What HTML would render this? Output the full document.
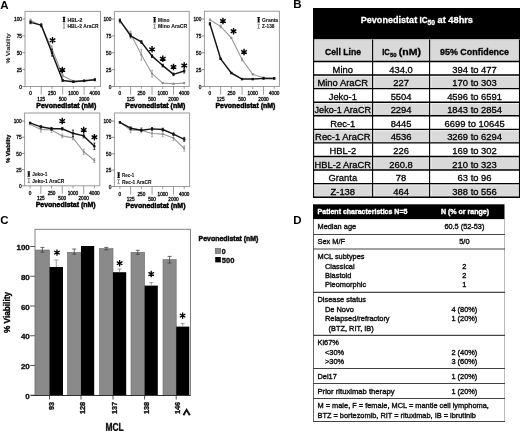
<!DOCTYPE html>
<html><head><meta charset="utf-8"><style>
html,body{margin:0;padding:0;background:#fff;}
body{width:520px;height:431px;overflow:hidden;font-family:"Liberation Sans",sans-serif;}
svg{display:block;will-change:transform;}
</style></head><body>
<svg width="520" height="431" viewBox="0 0 520 431" font-family="Liberation Sans, sans-serif">
<rect width="520" height="431" fill="#fff"/>
<text x="0.30" y="8.60" font-size="11.5" font-weight="bold">A</text>
<text x="293.20" y="8.20" font-size="11.5" font-weight="bold">B</text>
<text x="0.30" y="224.30" font-size="11.5" font-weight="bold">C</text>
<text x="293.20" y="224.30" font-size="11.5" font-weight="bold">D</text>
<rect x="25.00" y="11.40" width="75.50" height="75.10" fill="none" stroke="#9c9c9c" stroke-width="1.0"/>
<path d="M22.40 86.50H25" stroke="#666" stroke-width="0.7"/>
<text x="22.00" y="88.60" font-size="5.8" stroke="#111" stroke-width="0.35" text-anchor="end" fill="#111" textLength="2.65" lengthAdjust="spacingAndGlyphs">0</text>
<path d="M22.40 69.62H25" stroke="#666" stroke-width="0.7"/>
<text x="22.00" y="71.72" font-size="5.8" stroke="#111" stroke-width="0.35" text-anchor="end" fill="#111" textLength="5.30" lengthAdjust="spacingAndGlyphs">25</text>
<path d="M22.40 52.75H25" stroke="#666" stroke-width="0.7"/>
<text x="22.00" y="54.85" font-size="5.8" stroke="#111" stroke-width="0.35" text-anchor="end" fill="#111" textLength="5.30" lengthAdjust="spacingAndGlyphs">50</text>
<path d="M22.40 35.88H25" stroke="#666" stroke-width="0.7"/>
<text x="22.00" y="37.98" font-size="5.8" stroke="#111" stroke-width="0.35" text-anchor="end" fill="#111" textLength="5.30" lengthAdjust="spacingAndGlyphs">75</text>
<path d="M22.40 19.00H25" stroke="#666" stroke-width="0.7"/>
<text x="22.00" y="21.10" font-size="5.8" stroke="#111" stroke-width="0.35" text-anchor="end" fill="#111" textLength="7.95" lengthAdjust="spacingAndGlyphs">100</text>
<path d="M30.50 86.50V89.10" stroke="#777" stroke-width="0.7"/>
<path d="M41.22 86.50V94.70" stroke="#777" stroke-width="0.7"/>
<path d="M51.94 86.50V89.10" stroke="#777" stroke-width="0.7"/>
<path d="M62.66 86.50V94.70" stroke="#777" stroke-width="0.7"/>
<path d="M73.38 86.50V89.10" stroke="#777" stroke-width="0.7"/>
<path d="M84.10 86.50V94.70" stroke="#777" stroke-width="0.7"/>
<path d="M94.82 86.50V89.10" stroke="#777" stroke-width="0.7"/>
<text x="30.50" y="95.40" font-size="5.2" stroke="#111" stroke-width="0.35" text-anchor="middle" fill="#111" textLength="2.60" lengthAdjust="spacingAndGlyphs">0</text>
<text x="51.94" y="95.40" font-size="5.2" stroke="#111" stroke-width="0.35" text-anchor="middle" fill="#111" textLength="7.80" lengthAdjust="spacingAndGlyphs">250</text>
<text x="73.38" y="95.40" font-size="5.2" stroke="#111" stroke-width="0.35" text-anchor="middle" fill="#111" textLength="10.40" lengthAdjust="spacingAndGlyphs">1000</text>
<text x="94.82" y="95.40" font-size="5.2" stroke="#111" stroke-width="0.35" text-anchor="middle" fill="#111" textLength="10.40" lengthAdjust="spacingAndGlyphs">4000</text>
<text x="41.22" y="100.60" font-size="5.2" stroke="#111" stroke-width="0.35" text-anchor="middle" fill="#111" textLength="7.80" lengthAdjust="spacingAndGlyphs">125</text>
<text x="62.66" y="100.60" font-size="5.2" stroke="#111" stroke-width="0.35" text-anchor="middle" fill="#111" textLength="7.80" lengthAdjust="spacingAndGlyphs">500</text>
<text x="84.10" y="100.60" font-size="5.2" stroke="#111" stroke-width="0.35" text-anchor="middle" fill="#111" textLength="10.40" lengthAdjust="spacingAndGlyphs">2000</text>
<text x="66.25" y="108.20" font-size="7.0" stroke="#000" stroke-width="0.45" font-weight="bold" text-anchor="middle" textLength="60.00" lengthAdjust="spacingAndGlyphs">Pevonedistat (nM)</text>
<text x="10.20" y="48.50" font-size="6.2" stroke="#222" stroke-width="0.2" text-anchor="middle" fill="#222" textLength="30.00" lengthAdjust="spacingAndGlyphs" transform="rotate(-90 10.20 48.50)">% Viability</text>
<polyline points="30.50,20.35 41.22,25.75 51.94,48.70 62.66,75.70 73.38,81.10 84.10,81.10 94.82,79.75" fill="none" stroke="#999" stroke-width="1.1" stroke-linejoin="round"/>
<path d="M30.50 19.00V21.70M29.50 19.00h2M29.50 21.70h2" stroke="#8a8a8a" stroke-width="0.7"/>
<rect x="29.60" y="19.45" width="1.8" height="1.8" fill="#8a8a8a"/>
<path d="M41.22 24.40V27.10M40.22 24.40h2M40.22 27.10h2" stroke="#8a8a8a" stroke-width="0.7"/>
<rect x="40.32" y="24.85" width="1.8" height="1.8" fill="#8a8a8a"/>
<path d="M51.94 46.00V51.40M50.94 46.00h2M50.94 51.40h2" stroke="#8a8a8a" stroke-width="0.7"/>
<rect x="51.04" y="47.80" width="1.8" height="1.8" fill="#8a8a8a"/>
<path d="M62.66 74.35V77.05M61.66 74.35h2M61.66 77.05h2" stroke="#8a8a8a" stroke-width="0.7"/>
<rect x="61.76" y="74.80" width="1.8" height="1.8" fill="#8a8a8a"/>
<path d="M73.38 80.42V81.77M72.38 80.42h2M72.38 81.77h2" stroke="#8a8a8a" stroke-width="0.7"/>
<rect x="72.48" y="80.20" width="1.8" height="1.8" fill="#8a8a8a"/>
<path d="M84.10 80.42V81.77M83.10 80.42h2M83.10 81.77h2" stroke="#8a8a8a" stroke-width="0.7"/>
<rect x="83.20" y="80.20" width="1.8" height="1.8" fill="#8a8a8a"/>
<path d="M94.82 79.08V80.42M93.82 79.08h2M93.82 80.42h2" stroke="#8a8a8a" stroke-width="0.7"/>
<rect x="93.92" y="78.85" width="1.8" height="1.8" fill="#8a8a8a"/>
<polyline points="30.50,22.38 41.22,25.08 51.94,52.75 62.66,80.42 73.38,81.78 84.10,80.76 94.82,79.75" fill="none" stroke="#151515" stroke-width="1.45" stroke-linejoin="round"/>
<path d="M30.50 21.02V23.73M29.50 21.02h2M29.50 23.73h2" stroke="#111" stroke-width="0.8"/>
<rect x="29.40" y="21.27" width="2.2" height="2.2" fill="#111"/>
<path d="M41.22 23.73V26.43M40.22 23.73h2M40.22 26.43h2" stroke="#111" stroke-width="0.8"/>
<rect x="40.12" y="23.98" width="2.2" height="2.2" fill="#111"/>
<path d="M51.94 49.38V56.12M50.94 49.38h2M50.94 56.12h2" stroke="#111" stroke-width="0.8"/>
<rect x="50.84" y="51.65" width="2.2" height="2.2" fill="#111"/>
<path d="M62.66 79.41V81.44M61.66 79.41h2M61.66 81.44h2" stroke="#111" stroke-width="0.8"/>
<rect x="61.56" y="79.33" width="2.2" height="2.2" fill="#111"/>
<path d="M73.38 81.10V82.45M72.38 81.10h2M72.38 82.45h2" stroke="#111" stroke-width="0.8"/>
<rect x="72.28" y="80.68" width="2.2" height="2.2" fill="#111"/>
<path d="M84.10 80.09V81.44M83.10 80.09h2M83.10 81.44h2" stroke="#111" stroke-width="0.8"/>
<rect x="83.00" y="79.66" width="2.2" height="2.2" fill="#111"/>
<path d="M94.82 78.74V80.76M93.82 78.74h2M93.82 80.76h2" stroke="#111" stroke-width="0.8"/>
<rect x="93.72" y="78.65" width="2.2" height="2.2" fill="#111"/>
<path d="M51.84 40.26L51.84 43.51L53.24 43.51L53.24 40.26ZM52.19 39.66L49.38 41.28L50.08 42.49L52.89 40.87ZM52.89 39.66L50.08 38.03L49.38 39.24L52.19 40.87ZM53.24 40.26L53.24 37.01L51.84 37.01L51.84 40.26ZM52.89 40.87L55.70 39.24L55.00 38.03L52.19 39.66ZM52.19 40.87L55.00 42.49L55.70 41.28L52.89 39.66Z" fill="#000"/>
<path d="M61.66 69.96L61.66 73.21L63.06 73.21L63.06 69.96ZM62.01 69.36L59.20 70.98L59.90 72.19L62.71 70.57ZM62.71 69.36L59.90 67.73L59.20 68.94L62.01 70.57ZM63.06 69.96L63.06 66.71L61.66 66.71L61.66 69.96ZM62.71 70.57L65.52 68.94L64.82 67.73L62.01 69.36ZM62.01 70.57L64.82 72.19L65.52 70.98L62.71 69.36Z" fill="#000"/>
<path d="M64.00 17.30V21.70M62.70 17.30h2.6M62.70 21.70h2.6" stroke="#111" stroke-width="1.2"/>
<rect x="63.00" y="18.50" width="2" height="2" fill="#111"/>
<path d="M64.00 23.90V28.10M62.80 23.90h2.4M62.80 28.10h2.4" stroke="#8a8a8a" stroke-width="1.0"/>
<text x="67.50" y="21.50" font-size="5.4" stroke="#111" stroke-width="0.1" font-weight="bold" fill="#111" textLength="14.80" lengthAdjust="spacingAndGlyphs">HBL-2</text>
<text x="67.50" y="28.00" font-size="5.4" stroke="#111" stroke-width="0.1" font-weight="bold" fill="#111" textLength="31.00" lengthAdjust="spacingAndGlyphs">HBL-2 AraCR</text>
<rect x="114.40" y="11.40" width="74.80" height="75.10" fill="none" stroke="#9c9c9c" stroke-width="1.0"/>
<path d="M111.80 86.50H114.4" stroke="#666" stroke-width="0.7"/>
<text x="111.40" y="88.60" font-size="5.8" stroke="#111" stroke-width="0.35" text-anchor="end" fill="#111" textLength="2.65" lengthAdjust="spacingAndGlyphs">0</text>
<path d="M111.80 69.62H114.4" stroke="#666" stroke-width="0.7"/>
<text x="111.40" y="71.72" font-size="5.8" stroke="#111" stroke-width="0.35" text-anchor="end" fill="#111" textLength="5.30" lengthAdjust="spacingAndGlyphs">25</text>
<path d="M111.80 52.75H114.4" stroke="#666" stroke-width="0.7"/>
<text x="111.40" y="54.85" font-size="5.8" stroke="#111" stroke-width="0.35" text-anchor="end" fill="#111" textLength="5.30" lengthAdjust="spacingAndGlyphs">50</text>
<path d="M111.80 35.88H114.4" stroke="#666" stroke-width="0.7"/>
<text x="111.40" y="37.98" font-size="5.8" stroke="#111" stroke-width="0.35" text-anchor="end" fill="#111" textLength="5.30" lengthAdjust="spacingAndGlyphs">75</text>
<path d="M111.80 19.00H114.4" stroke="#666" stroke-width="0.7"/>
<text x="111.40" y="21.10" font-size="5.8" stroke="#111" stroke-width="0.35" text-anchor="end" fill="#111" textLength="7.95" lengthAdjust="spacingAndGlyphs">100</text>
<path d="M119.90 86.50V89.10" stroke="#777" stroke-width="0.7"/>
<path d="M130.62 86.50V94.70" stroke="#777" stroke-width="0.7"/>
<path d="M141.34 86.50V89.10" stroke="#777" stroke-width="0.7"/>
<path d="M152.06 86.50V94.70" stroke="#777" stroke-width="0.7"/>
<path d="M162.78 86.50V89.10" stroke="#777" stroke-width="0.7"/>
<path d="M173.50 86.50V94.70" stroke="#777" stroke-width="0.7"/>
<path d="M184.22 86.50V89.10" stroke="#777" stroke-width="0.7"/>
<text x="119.90" y="95.40" font-size="5.2" stroke="#111" stroke-width="0.35" text-anchor="middle" fill="#111" textLength="2.60" lengthAdjust="spacingAndGlyphs">0</text>
<text x="141.34" y="95.40" font-size="5.2" stroke="#111" stroke-width="0.35" text-anchor="middle" fill="#111" textLength="7.80" lengthAdjust="spacingAndGlyphs">250</text>
<text x="162.78" y="95.40" font-size="5.2" stroke="#111" stroke-width="0.35" text-anchor="middle" fill="#111" textLength="10.40" lengthAdjust="spacingAndGlyphs">1000</text>
<text x="184.22" y="95.40" font-size="5.2" stroke="#111" stroke-width="0.35" text-anchor="middle" fill="#111" textLength="10.40" lengthAdjust="spacingAndGlyphs">4000</text>
<text x="130.62" y="100.60" font-size="5.2" stroke="#111" stroke-width="0.35" text-anchor="middle" fill="#111" textLength="7.80" lengthAdjust="spacingAndGlyphs">125</text>
<text x="152.06" y="100.60" font-size="5.2" stroke="#111" stroke-width="0.35" text-anchor="middle" fill="#111" textLength="7.80" lengthAdjust="spacingAndGlyphs">500</text>
<text x="173.50" y="100.60" font-size="5.2" stroke="#111" stroke-width="0.35" text-anchor="middle" fill="#111" textLength="10.40" lengthAdjust="spacingAndGlyphs">2000</text>
<text x="155.30" y="108.20" font-size="7.0" stroke="#000" stroke-width="0.45" font-weight="bold" text-anchor="middle" textLength="60.00" lengthAdjust="spacingAndGlyphs">Pevonedistat (nM)</text>
<polyline points="119.90,21.70 130.62,33.85 141.34,54.77 152.06,73.67 162.78,83.12 173.50,83.80 184.22,83.12" fill="none" stroke="#999" stroke-width="1.1" stroke-linejoin="round"/>
<path d="M119.90 20.35V23.05M118.90 20.35h2M118.90 23.05h2" stroke="#8a8a8a" stroke-width="0.7"/>
<rect x="119.00" y="20.80" width="1.8" height="1.8" fill="#8a8a8a"/>
<path d="M130.62 31.15V36.55M129.62 31.15h2M129.62 36.55h2" stroke="#8a8a8a" stroke-width="0.7"/>
<rect x="129.72" y="32.95" width="1.8" height="1.8" fill="#8a8a8a"/>
<path d="M141.34 49.38V60.17M140.34 49.38h2M140.34 60.17h2" stroke="#8a8a8a" stroke-width="0.7"/>
<rect x="140.44" y="53.88" width="1.8" height="1.8" fill="#8a8a8a"/>
<path d="M152.06 70.30V77.05M151.06 70.30h2M151.06 77.05h2" stroke="#8a8a8a" stroke-width="0.7"/>
<rect x="151.16" y="72.77" width="1.8" height="1.8" fill="#8a8a8a"/>
<path d="M162.78 82.45V83.80M161.78 82.45h2M161.78 83.80h2" stroke="#8a8a8a" stroke-width="0.7"/>
<rect x="161.88" y="82.22" width="1.8" height="1.8" fill="#8a8a8a"/>
<path d="M173.50 83.12V84.47M172.50 83.12h2M172.50 84.47h2" stroke="#8a8a8a" stroke-width="0.7"/>
<rect x="172.60" y="82.90" width="1.8" height="1.8" fill="#8a8a8a"/>
<path d="M184.22 82.45V83.80M183.22 82.45h2M183.22 83.80h2" stroke="#8a8a8a" stroke-width="0.7"/>
<rect x="183.32" y="82.22" width="1.8" height="1.8" fill="#8a8a8a"/>
<polyline points="119.90,20.35 130.62,35.88 141.34,41.95 152.06,56.12 162.78,65.58 173.50,74.35 184.22,70.97" fill="none" stroke="#151515" stroke-width="1.45" stroke-linejoin="round"/>
<path d="M119.90 19.00V21.70M118.90 19.00h2M118.90 21.70h2" stroke="#111" stroke-width="0.8"/>
<rect x="118.80" y="19.25" width="2.2" height="2.2" fill="#111"/>
<path d="M130.62 33.85V37.90M129.62 33.85h2M129.62 37.90h2" stroke="#111" stroke-width="0.8"/>
<rect x="129.52" y="34.77" width="2.2" height="2.2" fill="#111"/>
<path d="M141.34 40.60V43.30M140.34 40.60h2M140.34 43.30h2" stroke="#111" stroke-width="0.8"/>
<rect x="140.24" y="40.85" width="2.2" height="2.2" fill="#111"/>
<path d="M152.06 54.77V57.48M151.06 54.77h2M151.06 57.48h2" stroke="#111" stroke-width="0.8"/>
<rect x="150.96" y="55.02" width="2.2" height="2.2" fill="#111"/>
<path d="M162.78 64.23V66.92M161.78 64.23h2M161.78 66.92h2" stroke="#111" stroke-width="0.8"/>
<rect x="161.68" y="64.48" width="2.2" height="2.2" fill="#111"/>
<path d="M173.50 73.00V75.70M172.50 73.00h2M172.50 75.70h2" stroke="#111" stroke-width="0.8"/>
<rect x="172.40" y="73.25" width="2.2" height="2.2" fill="#111"/>
<path d="M184.22 68.95V73.00M183.22 68.95h2M183.22 73.00h2" stroke="#111" stroke-width="0.8"/>
<rect x="183.12" y="69.88" width="2.2" height="2.2" fill="#111"/>
<path d="M151.36 49.38L151.36 52.62L152.76 52.62L152.76 49.38ZM151.71 48.77L148.90 50.39L149.60 51.61L152.41 49.98ZM152.41 48.77L149.60 47.14L148.90 48.36L151.71 49.98ZM152.76 49.38L152.76 46.12L151.36 46.12L151.36 49.38ZM152.41 49.98L155.22 48.36L154.52 47.14L151.71 48.77ZM151.71 49.98L154.52 51.61L155.22 50.39L152.41 48.77Z" fill="#000"/>
<path d="M162.08 58.83L162.08 62.08L163.48 62.08L163.48 58.83ZM162.43 58.22L159.62 59.84L160.32 61.06L163.13 59.43ZM163.13 58.22L160.32 56.59L159.62 57.81L162.43 59.43ZM163.48 58.83L163.48 55.58L162.08 55.58L162.08 58.83ZM163.13 59.43L165.94 57.81L165.24 56.59L162.43 58.22ZM162.43 59.43L165.24 61.06L165.94 59.84L163.13 58.22Z" fill="#000"/>
<path d="M172.80 66.92L172.80 70.17L174.20 70.17L174.20 66.92ZM173.15 66.32L170.34 67.94L171.04 69.16L173.85 67.53ZM173.85 66.32L171.04 64.69L170.34 65.91L173.15 67.53ZM174.20 66.92L174.20 63.67L172.80 63.67L172.80 66.92ZM173.85 67.53L176.66 65.91L175.96 64.69L173.15 66.32ZM173.15 67.53L175.96 69.16L176.66 67.94L173.85 66.32Z" fill="#000"/>
<path d="M183.52 65.58L183.52 68.83L184.92 68.83L184.92 65.58ZM183.87 64.97L181.06 66.59L181.76 67.81L184.57 66.18ZM184.57 64.97L181.76 63.34L181.06 64.56L183.87 66.18ZM184.92 65.58L184.92 62.33L183.52 62.33L183.52 65.58ZM184.57 66.18L187.38 64.56L186.68 63.34L183.87 64.97ZM183.87 66.18L186.68 67.81L187.38 66.59L184.57 64.97Z" fill="#000"/>
<path d="M154.60 17.60V22.00M153.30 17.60h2.6M153.30 22.00h2.6" stroke="#111" stroke-width="1.2"/>
<rect x="153.60" y="18.80" width="2" height="2" fill="#111"/>
<path d="M154.60 24.20V28.40M153.40 24.20h2.4M153.40 28.40h2.4" stroke="#8a8a8a" stroke-width="1.0"/>
<text x="158.10" y="21.80" font-size="5.4" stroke="#111" stroke-width="0.1" font-weight="bold" fill="#111" textLength="11.30" lengthAdjust="spacingAndGlyphs">Mino</text>
<text x="158.10" y="28.30" font-size="5.4" stroke="#111" stroke-width="0.1" font-weight="bold" fill="#111" textLength="29.00" lengthAdjust="spacingAndGlyphs">Mino AraCR</text>
<rect x="204.40" y="11.20" width="75.00" height="75.30" fill="none" stroke="#9c9c9c" stroke-width="1.0"/>
<path d="M201.80 86.50H204.4" stroke="#666" stroke-width="0.7"/>
<text x="201.40" y="88.60" font-size="5.8" stroke="#111" stroke-width="0.35" text-anchor="end" fill="#111" textLength="2.65" lengthAdjust="spacingAndGlyphs">0</text>
<path d="M201.80 69.62H204.4" stroke="#666" stroke-width="0.7"/>
<text x="201.40" y="71.72" font-size="5.8" stroke="#111" stroke-width="0.35" text-anchor="end" fill="#111" textLength="5.30" lengthAdjust="spacingAndGlyphs">25</text>
<path d="M201.80 52.75H204.4" stroke="#666" stroke-width="0.7"/>
<text x="201.40" y="54.85" font-size="5.8" stroke="#111" stroke-width="0.35" text-anchor="end" fill="#111" textLength="5.30" lengthAdjust="spacingAndGlyphs">50</text>
<path d="M201.80 35.88H204.4" stroke="#666" stroke-width="0.7"/>
<text x="201.40" y="37.98" font-size="5.8" stroke="#111" stroke-width="0.35" text-anchor="end" fill="#111" textLength="5.30" lengthAdjust="spacingAndGlyphs">75</text>
<path d="M201.80 19.00H204.4" stroke="#666" stroke-width="0.7"/>
<text x="201.40" y="21.10" font-size="5.8" stroke="#111" stroke-width="0.35" text-anchor="end" fill="#111" textLength="7.95" lengthAdjust="spacingAndGlyphs">100</text>
<path d="M209.90 86.50V89.10" stroke="#777" stroke-width="0.7"/>
<path d="M220.62 86.50V94.70" stroke="#777" stroke-width="0.7"/>
<path d="M231.34 86.50V89.10" stroke="#777" stroke-width="0.7"/>
<path d="M242.06 86.50V94.70" stroke="#777" stroke-width="0.7"/>
<path d="M252.78 86.50V89.10" stroke="#777" stroke-width="0.7"/>
<path d="M263.50 86.50V94.70" stroke="#777" stroke-width="0.7"/>
<path d="M274.22 86.50V89.10" stroke="#777" stroke-width="0.7"/>
<text x="209.90" y="95.40" font-size="5.2" stroke="#111" stroke-width="0.35" text-anchor="middle" fill="#111" textLength="2.60" lengthAdjust="spacingAndGlyphs">0</text>
<text x="231.34" y="95.40" font-size="5.2" stroke="#111" stroke-width="0.35" text-anchor="middle" fill="#111" textLength="7.80" lengthAdjust="spacingAndGlyphs">250</text>
<text x="252.78" y="95.40" font-size="5.2" stroke="#111" stroke-width="0.35" text-anchor="middle" fill="#111" textLength="10.40" lengthAdjust="spacingAndGlyphs">1000</text>
<text x="274.22" y="95.40" font-size="5.2" stroke="#111" stroke-width="0.35" text-anchor="middle" fill="#111" textLength="10.40" lengthAdjust="spacingAndGlyphs">4000</text>
<text x="220.62" y="100.60" font-size="5.2" stroke="#111" stroke-width="0.35" text-anchor="middle" fill="#111" textLength="7.80" lengthAdjust="spacingAndGlyphs">125</text>
<text x="242.06" y="100.60" font-size="5.2" stroke="#111" stroke-width="0.35" text-anchor="middle" fill="#111" textLength="7.80" lengthAdjust="spacingAndGlyphs">500</text>
<text x="263.50" y="100.60" font-size="5.2" stroke="#111" stroke-width="0.35" text-anchor="middle" fill="#111" textLength="10.40" lengthAdjust="spacingAndGlyphs">2000</text>
<text x="245.40" y="108.20" font-size="7.0" stroke="#000" stroke-width="0.45" font-weight="bold" text-anchor="middle" textLength="60.00" lengthAdjust="spacingAndGlyphs">Pevonedistat (nM)</text>
<polyline points="209.90,19.67 220.62,26.42 231.34,37.90 242.06,59.50 252.78,74.35 263.50,77.72 274.22,78.40" fill="none" stroke="#999" stroke-width="1.1" stroke-linejoin="round"/>
<path d="M209.90 19.00V20.35M208.90 19.00h2M208.90 20.35h2" stroke="#8a8a8a" stroke-width="0.7"/>
<rect x="209.00" y="18.77" width="1.8" height="1.8" fill="#8a8a8a"/>
<path d="M220.62 25.07V27.77M219.62 25.07h2M219.62 27.77h2" stroke="#8a8a8a" stroke-width="0.7"/>
<rect x="219.72" y="25.52" width="1.8" height="1.8" fill="#8a8a8a"/>
<path d="M231.34 37.23V38.57M230.34 37.23h2M230.34 38.57h2" stroke="#8a8a8a" stroke-width="0.7"/>
<rect x="230.44" y="37.00" width="1.8" height="1.8" fill="#8a8a8a"/>
<path d="M242.06 58.15V60.85M241.06 58.15h2M241.06 60.85h2" stroke="#8a8a8a" stroke-width="0.7"/>
<rect x="241.16" y="58.60" width="1.8" height="1.8" fill="#8a8a8a"/>
<path d="M252.78 73.67V75.02M251.78 73.67h2M251.78 75.02h2" stroke="#8a8a8a" stroke-width="0.7"/>
<rect x="251.88" y="73.45" width="1.8" height="1.8" fill="#8a8a8a"/>
<path d="M263.50 77.05V78.40M262.50 77.05h2M262.50 78.40h2" stroke="#8a8a8a" stroke-width="0.7"/>
<rect x="262.60" y="76.82" width="1.8" height="1.8" fill="#8a8a8a"/>
<path d="M274.22 77.73V79.08M273.22 77.73h2M273.22 79.08h2" stroke="#8a8a8a" stroke-width="0.7"/>
<rect x="273.32" y="77.50" width="1.8" height="1.8" fill="#8a8a8a"/>
<polyline points="209.90,23.73 220.62,58.83 231.34,73.00 242.06,79.08 252.78,79.08 263.50,78.40 274.22,78.40" fill="none" stroke="#151515" stroke-width="1.45" stroke-linejoin="round"/>
<path d="M209.90 22.38V25.08M208.90 22.38h2M208.90 25.08h2" stroke="#111" stroke-width="0.8"/>
<rect x="208.80" y="22.62" width="2.2" height="2.2" fill="#111"/>
<path d="M220.62 58.15V59.50M219.62 58.15h2M219.62 59.50h2" stroke="#111" stroke-width="0.8"/>
<rect x="219.52" y="57.73" width="2.2" height="2.2" fill="#111"/>
<path d="M231.34 72.33V73.67M230.34 72.33h2M230.34 73.67h2" stroke="#111" stroke-width="0.8"/>
<rect x="230.24" y="71.90" width="2.2" height="2.2" fill="#111"/>
<path d="M242.06 78.40V79.75M241.06 78.40h2M241.06 79.75h2" stroke="#111" stroke-width="0.8"/>
<rect x="240.96" y="77.98" width="2.2" height="2.2" fill="#111"/>
<path d="M252.78 78.40V79.75M251.78 78.40h2M251.78 79.75h2" stroke="#111" stroke-width="0.8"/>
<rect x="251.68" y="77.98" width="2.2" height="2.2" fill="#111"/>
<path d="M263.50 77.73V79.08M262.50 77.73h2M262.50 79.08h2" stroke="#111" stroke-width="0.8"/>
<rect x="262.40" y="77.30" width="2.2" height="2.2" fill="#111"/>
<path d="M274.22 77.73V79.08M273.22 77.73h2M273.22 79.08h2" stroke="#111" stroke-width="0.8"/>
<rect x="273.12" y="77.30" width="2.2" height="2.2" fill="#111"/>
<path d="M222.22 21.03L222.22 24.28L223.62 24.28L223.62 21.03ZM222.57 20.42L219.76 22.04L220.46 23.26L223.27 21.63ZM223.27 20.42L220.46 18.79L219.76 20.01L222.57 21.63ZM223.62 21.03L223.62 17.78L222.22 17.78L222.22 21.03ZM223.27 21.63L226.08 20.01L225.38 18.79L222.57 20.42ZM222.57 21.63L225.38 23.26L226.08 22.04L223.27 20.42Z" fill="#000"/>
<path d="M232.84 31.15L232.84 34.40L234.24 34.40L234.24 31.15ZM233.19 30.54L230.38 32.17L231.08 33.38L233.89 31.76ZM233.89 30.54L231.08 28.92L230.38 30.13L233.19 31.76ZM234.24 31.15L234.24 27.90L232.84 27.90L232.84 31.15ZM233.89 31.76L236.70 30.13L236.00 28.92L233.19 30.54ZM233.19 31.76L236.00 33.38L236.70 32.17L233.89 30.54Z" fill="#000"/>
<path d="M243.36 52.08L243.36 55.33L244.76 55.33L244.76 52.08ZM243.71 51.47L240.90 53.09L241.60 54.31L244.41 52.68ZM244.41 51.47L241.60 49.84L240.90 51.06L243.71 52.68ZM244.76 52.08L244.76 48.83L243.36 48.83L243.36 52.08ZM244.41 52.68L247.22 51.06L246.52 49.84L243.71 51.47ZM243.71 52.68L246.52 54.31L247.22 53.09L244.41 51.47Z" fill="#000"/>
<path d="M258.60 17.60V22.00M257.30 17.60h2.6M257.30 22.00h2.6" stroke="#111" stroke-width="1.2"/>
<rect x="257.60" y="18.80" width="2" height="2" fill="#111"/>
<path d="M258.60 24.20V28.40M257.40 24.20h2.4M257.40 28.40h2.4" stroke="#8a8a8a" stroke-width="1.0"/>
<text x="262.10" y="21.80" font-size="5.4" stroke="#111" stroke-width="0.1" font-weight="bold" fill="#111" textLength="16.00" lengthAdjust="spacingAndGlyphs">Granta</text>
<text x="262.10" y="28.30" font-size="5.4" stroke="#111" stroke-width="0.1" font-weight="bold" fill="#111" textLength="12.40" lengthAdjust="spacingAndGlyphs">Z-138</text>
<rect x="24.60" y="113.00" width="75.20" height="72.80" fill="none" stroke="#9c9c9c" stroke-width="1.0"/>
<path d="M22.00 185.80H24.6" stroke="#666" stroke-width="0.7"/>
<text x="21.60" y="187.90" font-size="5.8" stroke="#111" stroke-width="0.35" text-anchor="end" fill="#111" textLength="2.65" lengthAdjust="spacingAndGlyphs">0</text>
<path d="M22.00 169.60H24.6" stroke="#666" stroke-width="0.7"/>
<text x="21.60" y="171.70" font-size="5.8" stroke="#111" stroke-width="0.35" text-anchor="end" fill="#111" textLength="5.30" lengthAdjust="spacingAndGlyphs">25</text>
<path d="M22.00 153.40H24.6" stroke="#666" stroke-width="0.7"/>
<text x="21.60" y="155.50" font-size="5.8" stroke="#111" stroke-width="0.35" text-anchor="end" fill="#111" textLength="5.30" lengthAdjust="spacingAndGlyphs">50</text>
<path d="M22.00 137.20H24.6" stroke="#666" stroke-width="0.7"/>
<text x="21.60" y="139.30" font-size="5.8" stroke="#111" stroke-width="0.35" text-anchor="end" fill="#111" textLength="5.30" lengthAdjust="spacingAndGlyphs">75</text>
<path d="M22.00 121.00H24.6" stroke="#666" stroke-width="0.7"/>
<text x="21.60" y="123.10" font-size="5.8" stroke="#111" stroke-width="0.35" text-anchor="end" fill="#111" textLength="7.95" lengthAdjust="spacingAndGlyphs">100</text>
<path d="M30.10 185.80V188.40" stroke="#777" stroke-width="0.7"/>
<path d="M40.82 185.80V194.00" stroke="#777" stroke-width="0.7"/>
<path d="M51.54 185.80V188.40" stroke="#777" stroke-width="0.7"/>
<path d="M62.26 185.80V194.00" stroke="#777" stroke-width="0.7"/>
<path d="M72.98 185.80V188.40" stroke="#777" stroke-width="0.7"/>
<path d="M83.70 185.80V194.00" stroke="#777" stroke-width="0.7"/>
<path d="M94.42 185.80V188.40" stroke="#777" stroke-width="0.7"/>
<text x="30.10" y="195.10" font-size="5.2" stroke="#111" stroke-width="0.35" text-anchor="middle" fill="#111" textLength="2.60" lengthAdjust="spacingAndGlyphs">0</text>
<text x="51.54" y="195.10" font-size="5.2" stroke="#111" stroke-width="0.35" text-anchor="middle" fill="#111" textLength="7.80" lengthAdjust="spacingAndGlyphs">250</text>
<text x="72.98" y="195.10" font-size="5.2" stroke="#111" stroke-width="0.35" text-anchor="middle" fill="#111" textLength="10.40" lengthAdjust="spacingAndGlyphs">1000</text>
<text x="94.42" y="195.10" font-size="5.2" stroke="#111" stroke-width="0.35" text-anchor="middle" fill="#111" textLength="10.40" lengthAdjust="spacingAndGlyphs">4000</text>
<text x="40.82" y="200.40" font-size="5.2" stroke="#111" stroke-width="0.35" text-anchor="middle" fill="#111" textLength="7.80" lengthAdjust="spacingAndGlyphs">125</text>
<text x="62.26" y="200.40" font-size="5.2" stroke="#111" stroke-width="0.35" text-anchor="middle" fill="#111" textLength="7.80" lengthAdjust="spacingAndGlyphs">500</text>
<text x="83.70" y="200.40" font-size="5.2" stroke="#111" stroke-width="0.35" text-anchor="middle" fill="#111" textLength="10.40" lengthAdjust="spacingAndGlyphs">2000</text>
<text x="65.70" y="206.60" font-size="7.0" stroke="#000" stroke-width="0.45" font-weight="bold" text-anchor="middle" textLength="60.00" lengthAdjust="spacingAndGlyphs">Pevonedistat (nM)</text>
<text x="10.20" y="148.70" font-size="6.2" stroke="#000" stroke-width="0.3" font-weight="bold" text-anchor="middle" textLength="28.00" lengthAdjust="spacingAndGlyphs" transform="rotate(-90 10.20 148.70)">% Viability</text>
<polyline points="30.10,124.24 40.82,129.42 51.54,130.07 62.26,135.90 72.98,137.85 83.70,151.78 94.42,160.53" fill="none" stroke="#999" stroke-width="1.1" stroke-linejoin="round"/>
<path d="M30.10 123.59V124.89M29.10 123.59h2M29.10 124.89h2" stroke="#8a8a8a" stroke-width="0.7"/>
<rect x="29.20" y="123.34" width="1.8" height="1.8" fill="#8a8a8a"/>
<path d="M40.82 126.83V132.02M39.82 126.83h2M39.82 132.02h2" stroke="#8a8a8a" stroke-width="0.7"/>
<rect x="39.92" y="128.52" width="1.8" height="1.8" fill="#8a8a8a"/>
<path d="M51.54 127.48V132.66M50.54 127.48h2M50.54 132.66h2" stroke="#8a8a8a" stroke-width="0.7"/>
<rect x="50.64" y="129.17" width="1.8" height="1.8" fill="#8a8a8a"/>
<path d="M62.26 133.96V137.85M61.26 133.96h2M61.26 137.85h2" stroke="#8a8a8a" stroke-width="0.7"/>
<rect x="61.36" y="135.00" width="1.8" height="1.8" fill="#8a8a8a"/>
<path d="M72.98 135.90V139.79M71.98 135.90h2M71.98 139.79h2" stroke="#8a8a8a" stroke-width="0.7"/>
<rect x="72.08" y="136.95" width="1.8" height="1.8" fill="#8a8a8a"/>
<path d="M83.70 149.19V154.37M82.70 149.19h2M82.70 154.37h2" stroke="#8a8a8a" stroke-width="0.7"/>
<rect x="82.80" y="150.88" width="1.8" height="1.8" fill="#8a8a8a"/>
<path d="M94.42 158.58V162.47M93.42 158.58h2M93.42 162.47h2" stroke="#8a8a8a" stroke-width="0.7"/>
<rect x="93.52" y="159.63" width="1.8" height="1.8" fill="#8a8a8a"/>
<polyline points="30.10,122.94 40.82,126.83 51.54,128.78 62.26,128.78 72.98,133.31 83.70,135.90 94.42,146.27" fill="none" stroke="#151515" stroke-width="1.45" stroke-linejoin="round"/>
<path d="M30.10 122.30V123.59M29.10 122.30h2M29.10 123.59h2" stroke="#111" stroke-width="0.8"/>
<rect x="29.00" y="121.84" width="2.2" height="2.2" fill="#111"/>
<path d="M40.82 125.54V128.13M39.82 125.54h2M39.82 128.13h2" stroke="#111" stroke-width="0.8"/>
<rect x="39.72" y="125.73" width="2.2" height="2.2" fill="#111"/>
<path d="M51.54 127.48V130.07M50.54 127.48h2M50.54 130.07h2" stroke="#111" stroke-width="0.8"/>
<rect x="50.44" y="127.68" width="2.2" height="2.2" fill="#111"/>
<path d="M62.26 127.48V130.07M61.26 127.48h2M61.26 130.07h2" stroke="#111" stroke-width="0.8"/>
<rect x="61.16" y="127.68" width="2.2" height="2.2" fill="#111"/>
<path d="M72.98 130.07V136.55M71.98 130.07h2M71.98 136.55h2" stroke="#111" stroke-width="0.8"/>
<rect x="71.88" y="132.21" width="2.2" height="2.2" fill="#111"/>
<path d="M83.70 133.96V137.85M82.70 133.96h2M82.70 137.85h2" stroke="#111" stroke-width="0.8"/>
<rect x="82.60" y="134.80" width="2.2" height="2.2" fill="#111"/>
<path d="M94.42 143.03V149.51M93.42 143.03h2M93.42 149.51h2" stroke="#111" stroke-width="0.8"/>
<rect x="93.32" y="145.17" width="2.2" height="2.2" fill="#111"/>
<path d="M61.56 121.00L61.56 124.25L62.96 124.25L62.96 121.00ZM61.91 120.39L59.10 122.02L59.80 123.23L62.61 121.61ZM62.61 120.39L59.80 118.77L59.10 119.98L61.91 121.61ZM62.96 121.00L62.96 117.75L61.56 117.75L61.56 121.00ZM62.61 121.61L65.42 119.98L64.72 118.77L61.91 120.39ZM61.91 121.61L64.72 123.23L65.42 122.02L62.61 120.39Z" fill="#000"/>
<path d="M83.00 130.07L83.00 133.32L84.40 133.32L84.40 130.07ZM83.35 129.47L80.54 131.09L81.24 132.30L84.05 130.68ZM84.05 129.47L81.24 127.84L80.54 129.05L83.35 130.68ZM84.40 130.07L84.40 126.82L83.00 126.82L83.00 130.07ZM84.05 130.68L86.86 129.05L86.16 127.84L83.35 129.47ZM83.35 130.68L86.16 132.30L86.86 131.09L84.05 129.47Z" fill="#000"/>
<path d="M93.72 137.20L93.72 140.45L95.12 140.45L95.12 137.20ZM94.07 136.59L91.26 138.22L91.96 139.43L94.77 137.81ZM94.77 136.59L91.96 134.97L91.26 136.18L94.07 137.81ZM95.12 137.20L95.12 133.95L93.72 133.95L93.72 137.20ZM94.77 137.81L97.58 136.18L96.88 134.97L94.07 136.59ZM94.07 137.81L96.88 139.43L97.58 138.22L94.77 136.59Z" fill="#000"/>
<path d="M28.80 171.80V176.20M27.50 171.80h2.6M27.50 176.20h2.6" stroke="#111" stroke-width="1.2"/>
<rect x="27.80" y="173.00" width="2" height="2" fill="#111"/>
<path d="M28.80 178.40V182.60M27.60 178.40h2.4M27.60 182.60h2.4" stroke="#8a8a8a" stroke-width="1.0"/>
<text x="32.30" y="176.00" font-size="5.4" stroke="#111" stroke-width="0.1" font-weight="bold" fill="#111" textLength="15.00" lengthAdjust="spacingAndGlyphs">Jeko-1</text>
<text x="32.30" y="182.50" font-size="5.4" stroke="#111" stroke-width="0.1" font-weight="bold" fill="#111" textLength="32.00" lengthAdjust="spacingAndGlyphs">Jeko-1 AraCR</text>
<rect x="114.40" y="113.00" width="75.20" height="73.50" fill="none" stroke="#9c9c9c" stroke-width="1.0"/>
<path d="M111.80 186.50H114.4" stroke="#666" stroke-width="0.7"/>
<text x="111.40" y="188.60" font-size="5.8" stroke="#111" stroke-width="0.35" text-anchor="end" fill="#111" textLength="2.65" lengthAdjust="spacingAndGlyphs">0</text>
<path d="M111.80 170.12H114.4" stroke="#666" stroke-width="0.7"/>
<text x="111.40" y="172.22" font-size="5.8" stroke="#111" stroke-width="0.35" text-anchor="end" fill="#111" textLength="5.30" lengthAdjust="spacingAndGlyphs">25</text>
<path d="M111.80 153.75H114.4" stroke="#666" stroke-width="0.7"/>
<text x="111.40" y="155.85" font-size="5.8" stroke="#111" stroke-width="0.35" text-anchor="end" fill="#111" textLength="5.30" lengthAdjust="spacingAndGlyphs">50</text>
<path d="M111.80 137.38H114.4" stroke="#666" stroke-width="0.7"/>
<text x="111.40" y="139.47" font-size="5.8" stroke="#111" stroke-width="0.35" text-anchor="end" fill="#111" textLength="5.30" lengthAdjust="spacingAndGlyphs">75</text>
<path d="M111.80 121.00H114.4" stroke="#666" stroke-width="0.7"/>
<text x="111.40" y="123.10" font-size="5.8" stroke="#111" stroke-width="0.35" text-anchor="end" fill="#111" textLength="7.95" lengthAdjust="spacingAndGlyphs">100</text>
<path d="M119.90 186.50V189.10" stroke="#777" stroke-width="0.7"/>
<path d="M130.62 186.50V194.70" stroke="#777" stroke-width="0.7"/>
<path d="M141.34 186.50V189.10" stroke="#777" stroke-width="0.7"/>
<path d="M152.06 186.50V194.70" stroke="#777" stroke-width="0.7"/>
<path d="M162.78 186.50V189.10" stroke="#777" stroke-width="0.7"/>
<path d="M173.50 186.50V194.70" stroke="#777" stroke-width="0.7"/>
<path d="M184.22 186.50V189.10" stroke="#777" stroke-width="0.7"/>
<text x="119.90" y="195.90" font-size="5.2" stroke="#111" stroke-width="0.35" text-anchor="middle" fill="#111" textLength="2.60" lengthAdjust="spacingAndGlyphs">0</text>
<text x="141.34" y="195.90" font-size="5.2" stroke="#111" stroke-width="0.35" text-anchor="middle" fill="#111" textLength="7.80" lengthAdjust="spacingAndGlyphs">250</text>
<text x="162.78" y="195.90" font-size="5.2" stroke="#111" stroke-width="0.35" text-anchor="middle" fill="#111" textLength="10.40" lengthAdjust="spacingAndGlyphs">1000</text>
<text x="184.22" y="195.90" font-size="5.2" stroke="#111" stroke-width="0.35" text-anchor="middle" fill="#111" textLength="10.40" lengthAdjust="spacingAndGlyphs">4000</text>
<text x="130.62" y="201.40" font-size="5.2" stroke="#111" stroke-width="0.35" text-anchor="middle" fill="#111" textLength="7.80" lengthAdjust="spacingAndGlyphs">125</text>
<text x="152.06" y="201.40" font-size="5.2" stroke="#111" stroke-width="0.35" text-anchor="middle" fill="#111" textLength="7.80" lengthAdjust="spacingAndGlyphs">500</text>
<text x="173.50" y="201.40" font-size="5.2" stroke="#111" stroke-width="0.35" text-anchor="middle" fill="#111" textLength="10.40" lengthAdjust="spacingAndGlyphs">2000</text>
<text x="155.50" y="207.50" font-size="7.0" stroke="#000" stroke-width="0.45" font-weight="bold" text-anchor="middle" textLength="60.00" lengthAdjust="spacingAndGlyphs">Pevonedistat (nM)</text>
<polyline points="119.90,122.31 130.62,130.17 141.34,130.17 152.06,133.44 162.78,134.10 173.50,138.03 184.22,148.51" fill="none" stroke="#999" stroke-width="1.1" stroke-linejoin="round"/>
<path d="M119.90 121.66V122.97M118.90 121.66h2M118.90 122.97h2" stroke="#8a8a8a" stroke-width="0.7"/>
<rect x="119.00" y="121.41" width="1.8" height="1.8" fill="#8a8a8a"/>
<path d="M130.62 127.55V132.79M129.62 127.55h2M129.62 132.79h2" stroke="#8a8a8a" stroke-width="0.7"/>
<rect x="129.72" y="129.27" width="1.8" height="1.8" fill="#8a8a8a"/>
<path d="M141.34 127.55V132.79M140.34 127.55h2M140.34 132.79h2" stroke="#8a8a8a" stroke-width="0.7"/>
<rect x="140.44" y="129.27" width="1.8" height="1.8" fill="#8a8a8a"/>
<path d="M152.06 130.17V136.72M151.06 130.17h2M151.06 136.72h2" stroke="#8a8a8a" stroke-width="0.7"/>
<rect x="151.16" y="132.54" width="1.8" height="1.8" fill="#8a8a8a"/>
<path d="M162.78 131.48V136.72M161.78 131.48h2M161.78 136.72h2" stroke="#8a8a8a" stroke-width="0.7"/>
<rect x="161.88" y="133.20" width="1.8" height="1.8" fill="#8a8a8a"/>
<path d="M173.50 135.41V140.65M172.50 135.41h2M172.50 140.65h2" stroke="#8a8a8a" stroke-width="0.7"/>
<rect x="172.60" y="137.13" width="1.8" height="1.8" fill="#8a8a8a"/>
<path d="M184.22 145.89V151.13M183.22 145.89h2M183.22 151.13h2" stroke="#8a8a8a" stroke-width="0.7"/>
<rect x="183.32" y="147.61" width="1.8" height="1.8" fill="#8a8a8a"/>
<polyline points="119.90,122.31 130.62,128.20 141.34,130.17 152.06,128.86 162.78,129.51 173.50,134.10 184.22,139.34" fill="none" stroke="#151515" stroke-width="1.45" stroke-linejoin="round"/>
<path d="M119.90 121.66V122.97M118.90 121.66h2M118.90 122.97h2" stroke="#111" stroke-width="0.8"/>
<rect x="118.80" y="121.21" width="2.2" height="2.2" fill="#111"/>
<path d="M130.62 126.89V129.51M129.62 126.89h2M129.62 129.51h2" stroke="#111" stroke-width="0.8"/>
<rect x="129.52" y="127.10" width="2.2" height="2.2" fill="#111"/>
<path d="M141.34 128.86V131.48M140.34 128.86h2M140.34 131.48h2" stroke="#111" stroke-width="0.8"/>
<rect x="140.24" y="129.07" width="2.2" height="2.2" fill="#111"/>
<path d="M152.06 127.55V130.17M151.06 127.55h2M151.06 130.17h2" stroke="#111" stroke-width="0.8"/>
<rect x="150.96" y="127.76" width="2.2" height="2.2" fill="#111"/>
<path d="M162.78 128.20V130.82M161.78 128.20h2M161.78 130.82h2" stroke="#111" stroke-width="0.8"/>
<rect x="161.68" y="128.41" width="2.2" height="2.2" fill="#111"/>
<path d="M173.50 132.79V135.41M172.50 132.79h2M172.50 135.41h2" stroke="#111" stroke-width="0.8"/>
<rect x="172.40" y="133.00" width="2.2" height="2.2" fill="#111"/>
<path d="M184.22 137.38V141.31M183.22 137.38h2M183.22 141.31h2" stroke="#111" stroke-width="0.8"/>
<rect x="183.12" y="138.24" width="2.2" height="2.2" fill="#111"/>
<path d="M118.60 172.90V177.30M117.30 172.90h2.6M117.30 177.30h2.6" stroke="#111" stroke-width="1.2"/>
<rect x="117.60" y="174.10" width="2" height="2" fill="#111"/>
<path d="M118.60 179.50V183.70M117.40 179.50h2.4M117.40 183.70h2.4" stroke="#8a8a8a" stroke-width="1.0"/>
<text x="122.10" y="177.10" font-size="5.4" stroke="#111" stroke-width="0.1" font-weight="bold" fill="#111" textLength="12.00" lengthAdjust="spacingAndGlyphs">Rec-1</text>
<text x="122.10" y="183.60" font-size="5.4" stroke="#111" stroke-width="0.1" font-weight="bold" fill="#111" textLength="29.50" lengthAdjust="spacingAndGlyphs">Rec-1 AraCR</text>
<rect x="35" y="229.3" width="155.5" height="166.2" fill="none" stroke="#777" stroke-width="0.9"/>
<path d="M30.20 395.20H35" stroke="#444" stroke-width="0.9"/>
<text x="29.80" y="398.80" font-size="8.0" stroke="#111" stroke-width="0.35" font-weight="bold" text-anchor="end" fill="#111">0</text>
<path d="M30.20 365.46H35" stroke="#444" stroke-width="0.9"/>
<text x="29.80" y="369.06" font-size="8.0" stroke="#111" stroke-width="0.35" font-weight="bold" text-anchor="end" fill="#111">20</text>
<path d="M30.20 335.72H35" stroke="#444" stroke-width="0.9"/>
<text x="29.80" y="339.32" font-size="8.0" stroke="#111" stroke-width="0.35" font-weight="bold" text-anchor="end" fill="#111">40</text>
<path d="M30.20 305.98H35" stroke="#444" stroke-width="0.9"/>
<text x="29.80" y="309.58" font-size="8.0" stroke="#111" stroke-width="0.35" font-weight="bold" text-anchor="end" fill="#111">60</text>
<path d="M30.20 276.24H35" stroke="#444" stroke-width="0.9"/>
<text x="29.80" y="279.84" font-size="8.0" stroke="#111" stroke-width="0.35" font-weight="bold" text-anchor="end" fill="#111">80</text>
<path d="M30.20 246.50H35" stroke="#444" stroke-width="0.9"/>
<text x="29.80" y="250.10" font-size="8.0" stroke="#111" stroke-width="0.35" font-weight="bold" text-anchor="end" fill="#111">100</text>
<text x="10.40" y="312.50" font-size="8.8" stroke="#000" stroke-width="0.35" font-weight="bold" text-anchor="middle" textLength="41.00" lengthAdjust="spacingAndGlyphs" transform="rotate(-90 10.40 312.50)">% Viability</text>
<rect x="35.40" y="250.00" width="14.10" height="145.50" fill="#8a8a8a" stroke="#6a6a6a" stroke-width="0.6"/>
<rect x="49.50" y="267.00" width="13.50" height="128.50" fill="#000"/>
<path d="M42.45 247.40V252.20M40.45 247.40h4M40.45 252.20h4" stroke="#444" stroke-width="0.8"/>
<path d="M56.25 260.00V267.00M54.25 260.00h4" stroke="#888" stroke-width="0.8"/>
<path d="M56.35 252.60L56.35 255.80L57.65 255.80L57.65 252.60ZM56.67 252.04L53.90 253.64L54.55 254.76L57.33 253.16ZM57.33 252.04L54.55 250.44L53.90 251.56L56.67 253.16ZM57.65 252.60L57.65 249.40L56.35 249.40L56.35 252.60ZM57.33 253.16L60.10 251.56L59.45 250.44L56.67 252.04ZM56.67 253.16L59.45 254.76L60.10 253.64L57.33 252.04Z" fill="#000"/>
<path d="M49.50 395.5V399.5" stroke="#444" stroke-width="0.9"/>
<text x="53.60" y="401.80" font-size="8.0" stroke="#111" stroke-width="0.35" font-weight="bold" text-anchor="end" fill="#111" textLength="8.20" lengthAdjust="spacingAndGlyphs" transform="rotate(-90 53.60 401.80)">93</text>
<rect x="67.50" y="252.30" width="13.50" height="143.20" fill="#8a8a8a" stroke="#6a6a6a" stroke-width="0.6"/>
<rect x="81.00" y="246.00" width="13.20" height="149.50" fill="#000"/>
<path d="M74.25 249.00V254.20M72.25 249.00h4M72.25 254.20h4" stroke="#444" stroke-width="0.8"/>
<path d="M81.00 395.5V399.5" stroke="#444" stroke-width="0.9"/>
<text x="85.10" y="401.80" font-size="8.0" stroke="#111" stroke-width="0.35" font-weight="bold" text-anchor="end" fill="#111" textLength="12.30" lengthAdjust="spacingAndGlyphs" transform="rotate(-90 85.10 401.80)">128</text>
<rect x="99.50" y="248.60" width="13.50" height="146.90" fill="#8a8a8a" stroke="#6a6a6a" stroke-width="0.6"/>
<rect x="113.00" y="272.20" width="13.20" height="123.30" fill="#000"/>
<path d="M106.25 247.40V249.80M104.25 247.40h4M104.25 249.80h4" stroke="#444" stroke-width="0.8"/>
<path d="M119.60 269.00V272.20M117.60 269.00h4" stroke="#888" stroke-width="0.8"/>
<path d="M118.95 263.20L118.95 266.40L120.25 266.40L120.25 263.20ZM119.27 262.64L116.50 264.24L117.15 265.36L119.92 263.76ZM119.92 262.64L117.15 261.04L116.50 262.16L119.27 263.76ZM120.25 263.20L120.25 260.00L118.95 260.00L118.95 263.20ZM119.92 263.76L122.70 262.16L122.05 261.04L119.27 262.64ZM119.27 263.76L122.05 265.36L122.70 264.24L119.92 262.64Z" fill="#000"/>
<path d="M113.00 395.5V399.5" stroke="#444" stroke-width="0.9"/>
<text x="117.10" y="401.80" font-size="8.0" stroke="#111" stroke-width="0.35" font-weight="bold" text-anchor="end" fill="#111" textLength="12.30" lengthAdjust="spacingAndGlyphs" transform="rotate(-90 117.10 401.80)">137</text>
<rect x="131.00" y="252.30" width="13.60" height="143.20" fill="#8a8a8a" stroke="#6a6a6a" stroke-width="0.6"/>
<rect x="144.60" y="285.60" width="13.20" height="109.90" fill="#000"/>
<path d="M137.80 250.30V254.30M135.80 250.30h4M135.80 254.30h4" stroke="#444" stroke-width="0.8"/>
<path d="M151.20 282.60V285.60M149.20 282.60h4" stroke="#888" stroke-width="0.8"/>
<path d="M150.55 274.00L150.55 277.20L151.85 277.20L151.85 274.00ZM150.88 273.44L148.10 275.04L148.75 276.16L151.52 274.56ZM151.52 273.44L148.75 271.84L148.10 272.96L150.88 274.56ZM151.85 274.00L151.85 270.80L150.55 270.80L150.55 274.00ZM151.52 274.56L154.30 272.96L153.65 271.84L150.88 273.44ZM150.88 274.56L153.65 276.16L154.30 275.04L151.52 273.44Z" fill="#000"/>
<path d="M144.60 395.5V399.5" stroke="#444" stroke-width="0.9"/>
<text x="148.70" y="401.80" font-size="8.0" stroke="#111" stroke-width="0.35" font-weight="bold" text-anchor="end" fill="#111" textLength="12.30" lengthAdjust="spacingAndGlyphs" transform="rotate(-90 148.70 401.80)">138</text>
<rect x="163.00" y="259.60" width="13.20" height="135.90" fill="#8a8a8a" stroke="#6a6a6a" stroke-width="0.6"/>
<rect x="176.20" y="326.60" width="13.10" height="68.90" fill="#000"/>
<path d="M169.60 256.40V263.00M167.60 256.40h4M167.60 263.00h4" stroke="#444" stroke-width="0.8"/>
<path d="M182.75 323.50V326.60M180.75 323.50h4" stroke="#888" stroke-width="0.8"/>
<path d="M181.95 315.60L181.95 318.80L183.25 318.80L183.25 315.60ZM182.28 315.04L179.50 316.64L180.15 317.76L182.92 316.16ZM182.92 315.04L180.15 313.44L179.50 314.56L182.28 316.16ZM183.25 315.60L183.25 312.40L181.95 312.40L181.95 315.60ZM182.92 316.16L185.70 314.56L185.05 313.44L182.28 315.04ZM182.28 316.16L185.05 317.76L185.70 316.64L182.92 315.04Z" fill="#000"/>
<path d="M176.20 395.5V399.5" stroke="#444" stroke-width="0.9"/>
<text x="180.30" y="401.80" font-size="8.0" stroke="#111" stroke-width="0.35" font-weight="bold" text-anchor="end" fill="#111" textLength="12.30" lengthAdjust="spacingAndGlyphs" transform="rotate(-90 180.30 401.80)">146</text>
<path d="M31 395.5H190.5" stroke="#333" stroke-width="1"/>
<path d="M183.4 415.3L186.6 409.8L189.8 415.3" fill="none" stroke="#111" stroke-width="1.9" stroke-linejoin="miter"/>
<text x="114.50" y="431.40" font-size="10.2" stroke="#111" stroke-width="0.35" font-weight="bold" text-anchor="middle" fill="#111" textLength="18.20" lengthAdjust="spacingAndGlyphs">MCL</text>
<text x="198.60" y="241.10" font-size="7.0" stroke="#111" stroke-width="0.5" font-weight="bold" fill="#111" textLength="59.80" lengthAdjust="spacingAndGlyphs">Pevonedistat (nM)</text>
<rect x="215.2" y="248.4" width="5.6" height="5.2" fill="#8c8c8c" stroke="#555" stroke-width="0.5"/>
<rect x="215.2" y="257" width="5.6" height="5.4" fill="#000"/>
<text x="221.80" y="253.80" font-size="7.0" stroke="#111" stroke-width="0.35" font-weight="bold" fill="#111">0</text>
<text x="221.80" y="262.60" font-size="7.0" stroke="#111" stroke-width="0.35" font-weight="bold" fill="#111" textLength="12.60" lengthAdjust="spacingAndGlyphs">500</text>
<rect x="313" y="8" width="207" height="31.4" fill="#000"/>
<rect x="313" y="39.4" width="207" height="22.1" fill="#d9d9d9"/>
<path d="M313 39.7H520" stroke="#bbb" stroke-width="0.6"/>
<rect x="313" y="61.50" width="207" height="13.57" fill="#fff"/>
<rect x="313" y="75.07" width="207" height="13.57" fill="#d9d9d9"/>
<path d="M313 76.37H520M314.6 75.07V88.64M374.0 75.07V88.64M431.0 75.07V88.64" stroke="#f2f2f2" stroke-width="0.9"/>
<rect x="313" y="88.64" width="207" height="13.57" fill="#fff"/>
<rect x="313" y="102.21" width="207" height="13.57" fill="#d9d9d9"/>
<path d="M313 103.51H520M314.6 102.21000000000001V115.78M374.0 102.21000000000001V115.78M431.0 102.21000000000001V115.78" stroke="#f2f2f2" stroke-width="0.9"/>
<rect x="313" y="115.78" width="207" height="13.57" fill="#fff"/>
<rect x="313" y="129.35" width="207" height="13.57" fill="#d9d9d9"/>
<path d="M313 130.65H520M314.6 129.35V142.92000000000002M374.0 129.35V142.92000000000002M431.0 129.35V142.92000000000002" stroke="#f2f2f2" stroke-width="0.9"/>
<rect x="313" y="142.92" width="207" height="13.57" fill="#fff"/>
<rect x="313" y="156.49" width="207" height="13.57" fill="#d9d9d9"/>
<path d="M313 157.79H520M314.6 156.49V170.06M374.0 156.49V170.06M431.0 156.49V170.06" stroke="#f2f2f2" stroke-width="0.9"/>
<rect x="313" y="170.06" width="207" height="13.57" fill="#fff"/>
<rect x="313" y="183.63" width="207" height="13.57" fill="#d9d9d9"/>
<path d="M313 184.93H520M314.6 183.63V197.2M374.0 183.63V197.2M431.0 183.63V197.2" stroke="#f2f2f2" stroke-width="0.9"/>
<path d="M313 61.50H520" stroke="#000" stroke-width="1.4"/>
<path d="M313 75.07H520" stroke="#000" stroke-width="1.4"/>
<path d="M313 88.64H520" stroke="#000" stroke-width="1.4"/>
<path d="M313 102.21H520" stroke="#000" stroke-width="1.4"/>
<path d="M313 115.78H520" stroke="#000" stroke-width="1.4"/>
<path d="M313 129.35H520" stroke="#000" stroke-width="1.4"/>
<path d="M313 142.92H520" stroke="#000" stroke-width="1.4"/>
<path d="M313 156.49H520" stroke="#000" stroke-width="1.4"/>
<path d="M313 170.06H520" stroke="#000" stroke-width="1.4"/>
<path d="M313 183.63H520" stroke="#000" stroke-width="1.4"/>
<path d="M313 197.20H520" stroke="#000" stroke-width="1.4"/>
<path d="M313.6 39.4V197.80" stroke="#000" stroke-width="1.1"/>
<path d="M372.6 39.4V197.80" stroke="#000" stroke-width="1.1"/>
<path d="M429.6 39.4V197.80" stroke="#000" stroke-width="1.1"/>
<path d="M519.5 39.4V197.80" stroke="#000" stroke-width="1.1"/>
<path d="M313.6 8V40" stroke="#000" stroke-width="1.1"/>
<text x="360.70" y="23.20" font-size="9.8" stroke="#fff" stroke-width="0.3" font-weight="bold" fill="#fff" textLength="56.50" lengthAdjust="spacingAndGlyphs">Pevonedistat</text>
<text x="419.50" y="23.20" font-size="9.8" stroke="#fff" stroke-width="0.3" font-weight="bold" fill="#fff" textLength="8.00" lengthAdjust="spacingAndGlyphs">IC</text>
<text x="427.60" y="25.40" font-size="6.4" stroke="#fff" stroke-width="0.3" font-weight="bold" fill="#fff" textLength="7.40" lengthAdjust="spacingAndGlyphs">50</text>
<text x="437.60" y="23.20" font-size="9.8" stroke="#fff" stroke-width="0.3" font-weight="bold" fill="#fff" textLength="35.40" lengthAdjust="spacingAndGlyphs">at 48hrs</text>
<text x="325.00" y="54.60" font-size="8.9" stroke="#000" stroke-width="0.3" font-weight="bold" textLength="36.00" lengthAdjust="spacingAndGlyphs">Cell Line</text>
<text x="382.20" y="54.60" font-size="8.9" stroke="#000" stroke-width="0.3" font-weight="bold" textLength="7.60" lengthAdjust="spacingAndGlyphs">IC</text>
<text x="390.00" y="56.60" font-size="5.8" stroke="#000" stroke-width="0.3" font-weight="bold" textLength="6.60" lengthAdjust="spacingAndGlyphs">50</text>
<text x="398.80" y="54.60" font-size="8.9" stroke="#000" stroke-width="0.3" font-weight="bold" textLength="22.20" lengthAdjust="spacingAndGlyphs">(nM)</text>
<text x="440.00" y="54.60" font-size="8.9" stroke="#000" stroke-width="0.3" font-weight="bold" textLength="69.00" lengthAdjust="spacingAndGlyphs">95% Confidence</text>
<text x="342.80" y="72.60" font-size="9.4" stroke="#000" stroke-width="0.3" text-anchor="middle" textLength="20.38" lengthAdjust="spacingAndGlyphs">Mino</text>
<text x="401.10" y="72.60" font-size="9.4" stroke="#000" stroke-width="0.3" text-anchor="middle" textLength="23.52" lengthAdjust="spacingAndGlyphs">434.0</text>
<text x="474.60" y="72.60" font-size="9.4" stroke="#000" stroke-width="0.3" text-anchor="middle" textLength="44.43" lengthAdjust="spacingAndGlyphs">394 to 477</text>
<text x="342.80" y="86.17" font-size="9.4" stroke="#000" stroke-width="0.3" text-anchor="middle" textLength="50.67" lengthAdjust="spacingAndGlyphs">Mino AraCR</text>
<text x="401.10" y="86.17" font-size="9.4" stroke="#000" stroke-width="0.3" text-anchor="middle" textLength="15.68" lengthAdjust="spacingAndGlyphs">227</text>
<text x="474.60" y="86.17" font-size="9.4" stroke="#000" stroke-width="0.3" text-anchor="middle" textLength="44.43" lengthAdjust="spacingAndGlyphs">170 to 303</text>
<text x="342.80" y="99.74" font-size="9.4" stroke="#000" stroke-width="0.3" text-anchor="middle" textLength="28.21" lengthAdjust="spacingAndGlyphs">Jeko-1</text>
<text x="401.10" y="99.74" font-size="9.4" stroke="#000" stroke-width="0.3" text-anchor="middle" textLength="20.91" lengthAdjust="spacingAndGlyphs">5504</text>
<text x="474.60" y="99.74" font-size="9.4" stroke="#000" stroke-width="0.3" text-anchor="middle" textLength="54.89" lengthAdjust="spacingAndGlyphs">4596 to 6591</text>
<text x="342.80" y="113.31" font-size="9.4" stroke="#000" stroke-width="0.3" text-anchor="middle" textLength="56.40" lengthAdjust="spacingAndGlyphs">Jeko-1 AraCR</text>
<text x="401.10" y="113.31" font-size="9.4" stroke="#000" stroke-width="0.3" text-anchor="middle" textLength="20.91" lengthAdjust="spacingAndGlyphs">2294</text>
<text x="474.60" y="113.31" font-size="9.4" stroke="#000" stroke-width="0.3" text-anchor="middle" textLength="54.89" lengthAdjust="spacingAndGlyphs">1843 to 2854</text>
<text x="342.80" y="126.88" font-size="9.4" stroke="#000" stroke-width="0.3" text-anchor="middle" textLength="25.08" lengthAdjust="spacingAndGlyphs">Rec-1</text>
<text x="401.10" y="126.88" font-size="9.4" stroke="#000" stroke-width="0.3" text-anchor="middle" textLength="20.91" lengthAdjust="spacingAndGlyphs">8445</text>
<text x="474.60" y="126.88" font-size="9.4" stroke="#000" stroke-width="0.3" text-anchor="middle" textLength="60.11" lengthAdjust="spacingAndGlyphs">6699 to 10645</text>
<text x="342.80" y="140.45" font-size="9.4" stroke="#000" stroke-width="0.3" text-anchor="middle" textLength="55.37" lengthAdjust="spacingAndGlyphs">Rec-1 AraCR</text>
<text x="401.10" y="140.45" font-size="9.4" stroke="#000" stroke-width="0.3" text-anchor="middle" textLength="20.91" lengthAdjust="spacingAndGlyphs">4536</text>
<text x="474.60" y="140.45" font-size="9.4" stroke="#000" stroke-width="0.3" text-anchor="middle" textLength="54.89" lengthAdjust="spacingAndGlyphs">3269 to 6294</text>
<text x="342.80" y="154.02" font-size="9.4" stroke="#000" stroke-width="0.3" text-anchor="middle" textLength="26.65" lengthAdjust="spacingAndGlyphs">HBL-2</text>
<text x="401.10" y="154.02" font-size="9.4" stroke="#000" stroke-width="0.3" text-anchor="middle" textLength="15.68" lengthAdjust="spacingAndGlyphs">226</text>
<text x="474.60" y="154.02" font-size="9.4" stroke="#000" stroke-width="0.3" text-anchor="middle" textLength="44.43" lengthAdjust="spacingAndGlyphs">169 to 302</text>
<text x="342.80" y="167.59" font-size="9.4" stroke="#000" stroke-width="0.3" text-anchor="middle" textLength="56.40" lengthAdjust="spacingAndGlyphs">HBL-2 AraCR</text>
<text x="401.10" y="167.59" font-size="9.4" stroke="#000" stroke-width="0.3" text-anchor="middle" textLength="23.52" lengthAdjust="spacingAndGlyphs">260.8</text>
<text x="474.60" y="167.59" font-size="9.4" stroke="#000" stroke-width="0.3" text-anchor="middle" textLength="44.43" lengthAdjust="spacingAndGlyphs">210 to 323</text>
<text x="342.80" y="181.16" font-size="9.4" stroke="#000" stroke-width="0.3" text-anchor="middle" textLength="28.74" lengthAdjust="spacingAndGlyphs">Granta</text>
<text x="401.10" y="181.16" font-size="9.4" stroke="#000" stroke-width="0.3" text-anchor="middle" textLength="10.46" lengthAdjust="spacingAndGlyphs">78</text>
<text x="474.60" y="181.16" font-size="9.4" stroke="#000" stroke-width="0.3" text-anchor="middle" textLength="33.97" lengthAdjust="spacingAndGlyphs">63 to 96</text>
<text x="342.80" y="194.73" font-size="9.4" stroke="#000" stroke-width="0.3" text-anchor="middle" textLength="24.56" lengthAdjust="spacingAndGlyphs">Z-138</text>
<text x="401.10" y="194.73" font-size="9.4" stroke="#000" stroke-width="0.3" text-anchor="middle" textLength="15.68" lengthAdjust="spacingAndGlyphs">464</text>
<text x="474.60" y="194.73" font-size="9.4" stroke="#000" stroke-width="0.3" text-anchor="middle" textLength="44.43" lengthAdjust="spacingAndGlyphs">388 to 556</text>
<rect x="313.0" y="204.3" width="191.5" height="14.8" fill="#000"/>
<path d="M313.5 219V421.5" stroke="#666" stroke-width="1"/>
<path d="M504.5 219V421.5" stroke="#bbb" stroke-width="1"/>
<path d="M313.0 234.5H505.0" stroke="#444" stroke-width="1.1"/>
<path d="M313.0 249H505.0" stroke="#444" stroke-width="1.1"/>
<path d="M313.0 292.4H505.0" stroke="#444" stroke-width="1.1"/>
<path d="M313.0 335.4H505.0" stroke="#444" stroke-width="1.1"/>
<path d="M313.0 368.5H505.0" stroke="#444" stroke-width="1.1"/>
<path d="M313.0 383.5H505.0" stroke="#444" stroke-width="1.1"/>
<path d="M313.0 398.5H505.0" stroke="#444" stroke-width="1.1"/>
<path d="M313.0 421.5H505.0" stroke="#444" stroke-width="1.1"/>
<text x="317.60" y="214.00" font-size="7.0" stroke="#fff" stroke-width="0.38" font-weight="bold" fill="#fff" textLength="89.80" lengthAdjust="spacingAndGlyphs">Patient characteristics N=5</text>
<text x="465.00" y="214.00" font-size="7.0" stroke="#fff" stroke-width="0.38" font-weight="bold" text-anchor="middle" fill="#fff" textLength="48.00" lengthAdjust="spacingAndGlyphs">N (% or range)</text>
<text x="317.50" y="229.00" font-size="7.4" stroke="#111" stroke-width="0.38" fill="#111" textLength="38.60" lengthAdjust="spacingAndGlyphs">Median age</text>
<text x="464.40" y="229.00" font-size="7.4" stroke="#111" stroke-width="0.38" text-anchor="middle" fill="#111" textLength="40.00" lengthAdjust="spacingAndGlyphs">60.5 (52-53)</text>
<text x="317.50" y="244.30" font-size="7.4" stroke="#111" stroke-width="0.38" fill="#111" textLength="27.55" lengthAdjust="spacingAndGlyphs">Sex M/F</text>
<text x="464.40" y="244.30" font-size="7.4" stroke="#111" stroke-width="0.38" text-anchor="middle" fill="#111" textLength="10.29" lengthAdjust="spacingAndGlyphs">5/0</text>
<text x="317.50" y="259.00" font-size="7.4" stroke="#111" stroke-width="0.38" fill="#111" textLength="47.02" lengthAdjust="spacingAndGlyphs">MCL subtypes</text>
<text x="325.00" y="268.50" font-size="7.4" stroke="#111" stroke-width="0.38" fill="#111" textLength="29.61" lengthAdjust="spacingAndGlyphs">Classical</text>
<text x="464.40" y="268.50" font-size="7.4" stroke="#111" stroke-width="0.38" text-anchor="middle" fill="#111" textLength="4.12" lengthAdjust="spacingAndGlyphs">2</text>
<text x="325.00" y="278.00" font-size="7.4" stroke="#111" stroke-width="0.38" fill="#111" textLength="26.33" lengthAdjust="spacingAndGlyphs">Blastoid</text>
<text x="464.40" y="278.00" font-size="7.4" stroke="#111" stroke-width="0.38" text-anchor="middle" fill="#111" textLength="4.12" lengthAdjust="spacingAndGlyphs">2</text>
<text x="325.00" y="287.30" font-size="7.4" stroke="#111" stroke-width="0.38" fill="#111" textLength="41.13" lengthAdjust="spacingAndGlyphs">Pleomorphic</text>
<text x="464.40" y="287.30" font-size="7.4" stroke="#111" stroke-width="0.38" text-anchor="middle" fill="#111" textLength="4.12" lengthAdjust="spacingAndGlyphs">1</text>
<text x="317.50" y="302.00" font-size="7.4" stroke="#111" stroke-width="0.38" fill="#111" textLength="48.53" lengthAdjust="spacingAndGlyphs">Disease status</text>
<text x="325.00" y="311.50" font-size="7.4" stroke="#111" stroke-width="0.38" fill="#111" textLength="28.79" lengthAdjust="spacingAndGlyphs">De Novo</text>
<text x="464.40" y="311.50" font-size="7.4" stroke="#111" stroke-width="0.38" text-anchor="middle" fill="#111" textLength="25.91" lengthAdjust="spacingAndGlyphs">4 (80%)</text>
<text x="325.00" y="321.00" font-size="7.4" stroke="#111" stroke-width="0.38" fill="#111" textLength="64.57" lengthAdjust="spacingAndGlyphs">Relapsed/refractory</text>
<text x="464.40" y="321.00" font-size="7.4" stroke="#111" stroke-width="0.38" text-anchor="middle" fill="#111" textLength="25.91" lengthAdjust="spacingAndGlyphs">1 (20%)</text>
<text x="328.50" y="331.00" font-size="7.4" stroke="#111" stroke-width="0.38" fill="#111" textLength="45.22" lengthAdjust="spacingAndGlyphs">(BTZ, RIT, IB)</text>
<text x="317.50" y="345.00" font-size="7.4" stroke="#111" stroke-width="0.38" fill="#111" textLength="21.39" lengthAdjust="spacingAndGlyphs">Ki67%</text>
<text x="325.00" y="354.50" font-size="7.4" stroke="#111" stroke-width="0.38" fill="#111" textLength="19.13" lengthAdjust="spacingAndGlyphs">&lt;30%</text>
<text x="464.40" y="354.50" font-size="7.4" stroke="#111" stroke-width="0.38" text-anchor="middle" fill="#111" textLength="25.91" lengthAdjust="spacingAndGlyphs">2 (40%)</text>
<text x="325.00" y="364.00" font-size="7.4" stroke="#111" stroke-width="0.38" fill="#111" textLength="19.13" lengthAdjust="spacingAndGlyphs">&gt;30%</text>
<text x="464.40" y="364.00" font-size="7.4" stroke="#111" stroke-width="0.38" text-anchor="middle" fill="#111" textLength="25.91" lengthAdjust="spacingAndGlyphs">3 (60%)</text>
<text x="317.50" y="378.50" font-size="7.4" stroke="#111" stroke-width="0.38" fill="#111" textLength="19.34" lengthAdjust="spacingAndGlyphs">Del17</text>
<text x="464.40" y="378.50" font-size="7.4" stroke="#111" stroke-width="0.38" text-anchor="middle" fill="#111" textLength="25.91" lengthAdjust="spacingAndGlyphs">1 (20%)</text>
<text x="317.50" y="393.50" font-size="7.4" stroke="#111" stroke-width="0.38" fill="#111" textLength="77.00" lengthAdjust="spacingAndGlyphs">Prior rituximab therapy</text>
<text x="464.40" y="393.50" font-size="7.4" stroke="#111" stroke-width="0.38" text-anchor="middle" fill="#111" textLength="25.91" lengthAdjust="spacingAndGlyphs">1 (20%)</text>
<text x="317.50" y="408.30" font-size="7.4" stroke="#111" stroke-width="0.38" fill="#111" textLength="171.40" lengthAdjust="spacingAndGlyphs">M = male, F = female, MCL = mantle cell lymphoma,</text>
<text x="317.50" y="418.20" font-size="7.4" stroke="#111" stroke-width="0.38" fill="#111" textLength="158.40" lengthAdjust="spacingAndGlyphs">BTZ = bortezomib, RIT = rituximab, IB = ibrutinib</text>
</svg>
</body></html>
